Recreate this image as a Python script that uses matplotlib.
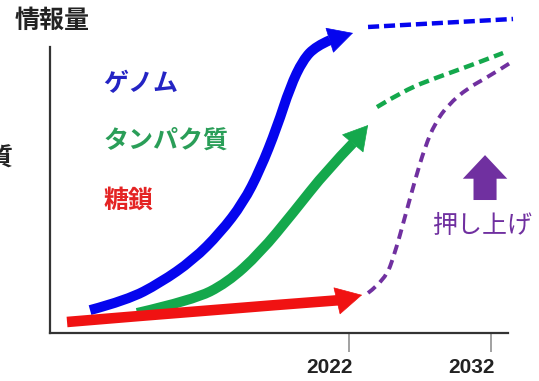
import matplotlib.pyplot as plt
from matplotlib.path import Path
from matplotlib.patches import PathPatch
from matplotlib.transforms import ScaledTranslation

plt.rcParams['font.family'] = ['Noto Sans CJK JP', 'DejaVu Sans']
plt.rcParams['lines.scale_dashes'] = False

# Data (year, amount of information)
genome_x = [2003.76, 2006.37, 2008.69, 2011.01, 2012.92, 2014.54, 2015.73, 2016.93, 2017.85, 2018.76, 2019.68, 2020.66]
genome_y = [8.0, 11.5, 17.5, 25.5, 35.0, 45.5, 57.0, 72.0, 86.0, 95.5, 100.3, 102.4]
genome_tip = (2022.28, 104.9)
genome_fx = [2023.34, 2028.41, 2033.55]
genome_fy = [107.0, 108.4, 109.8]

protein_x = [2007.07, 2011.01, 2013.41, 2015.73, 2018.06, 2020.45, 2022.28]
protein_y = [7.0, 11.5, 17.5, 28.0, 42.0, 57.0, 66.4]
protein_tip = (2023.34, 72.7)
protein_fx = [2023.97, 2025.94, 2028.27, 2030.66, 2032.85]
protein_fy = [79.0, 85.0, 89.5, 93.7, 97.9]

glycan_x = [2002.14, 2012.21, 2021.37]
glycan_y = [3.85, 8.04, 11.5]
glycan_tip = (2022.92, 13.3)

boost_x = [2023.34, 2024.54, 2025.24, 2025.94, 2026.65, 2027.35, 2028.06, 2028.97, 2030.38, 2031.79, 2033.34]
boost_y = [14.0, 18.5, 28.0, 40.6, 53.5, 65.0, 73.4, 79.7, 85.7, 89.5, 94.4]

years = [2022, 2032]
year_labels = ['2022', '2032']

blue = '#0505ee'
green = '#14a84c'
red = '#f01212'
purple = '#7030a0'
dark = '#222222'

fig = plt.figure(figsize=(5.39, 3.81), dpi=100)
ax = fig.add_axes([0.09276, 0.12598, 0.88404, 0.84073])
ax.set_xlim(2000.94, 2034.5)
ax.set_ylim(0, 112)


def curve(xs, ys, color, lw, dashes=None):
    # points used as quadratic bezier controls so the line comes out smooth
    pts = list(zip(xs, ys))
    verts = [pts[0]]
    codes = [Path.MOVETO]
    for i in range(1, len(pts) - 1):
        if i < len(pts) - 2:
            end = ((pts[i][0] + pts[i + 1][0]) / 2, (pts[i][1] + pts[i + 1][1]) / 2)
        else:
            end = pts[-1]
        verts += [pts[i], end]
        codes += [Path.CURVE3, Path.CURVE3]
    if len(pts) == 2:
        verts.append(pts[1])
        codes.append(Path.LINETO)
    p = PathPatch(Path(verts, codes), fill=False, edgecolor=color, lw=lw,
                  joinstyle='round', capstyle='butt')
    if dashes:
        p.set_linestyle((0, dashes))
    ax.add_patch(p)


def head(base, tip, color, length, width):
    ax.annotate('', xy=tip, xytext=base,
                arrowprops=dict(arrowstyle=f'-|>,head_length={length},head_width={width}',
                                color=color, lw=0.5, shrinkA=0, shrinkB=0, mutation_scale=20))


# solid arrows (until 2022)
curve(protein_x, protein_y, green, 7.2)
head((protein_x[-1], protein_y[-1]), protein_tip, green, 0.83, 0.48)
curve(genome_x, genome_y, blue, 7.2)
head((genome_x[-1], genome_y[-1]), genome_tip, blue, 0.85, 0.45)
curve(glycan_x, glycan_y, red, 7.6)
head((glycan_x[-1], glycan_y[-1]), glycan_tip, red, 0.9, 0.48)

# dashed forecasts
curve(genome_fx, genome_fy, blue, 3.2, (8, 3.5))
curve(protein_fx, protein_fy, green, 3.2, (7.5, 4))
curve(boost_x, boost_y, purple, 2.8, (7, 4.5))

# "push up" arrow
ax.annotate('', xy=(2031.58, 62.2), xytext=(2031.58, 46.5),
            arrowprops=dict(arrowstyle='simple,head_length=0.85,head_width=1.6,tail_width=0.83',
                            mutation_scale=20, color=purple, lw=0, shrinkA=0, shrinkB=0))
ax.text(2031.37, 37.4, '押し上げ', color=purple, fontsize=18, ha='center', va='center')

# labels
ax.text(2004.7, 87.1, 'ゲノム', color='#2424c4', fontsize=18, fontweight='bold', ha='left', va='center')
ax.text(2004.7, 67.1, 'タンパク質', color='#2a9e58', fontsize=18, fontweight='bold', ha='left', va='center')
ax.text(2004.7, 46.2, '糖鎖', color='#e42424', fontsize=18, fontweight='bold', ha='left', va='center')

fig.text(15 / 539, 1 - 21 / 381, '情報量', color=dark, fontsize=18, fontweight='bold', ha='left', va='center')
# cut off at the left edge, as in the source image
fig.text(12 / 539, 1 - 159 / 381, '質', color=dark, fontsize=18, fontweight='bold', ha='right', va='center')

# axes
for s in ['top', 'right']:
    ax.spines[s].set_visible(False)
ax.spines['left'].set_bounds(0, 100)
ax.spines['bottom'].set_bounds(2000.94, 2033.2)
for s in ['left', 'bottom']:
    ax.spines[s].set_linewidth(1.6)
    ax.spines[s].set_color('#333333')
ax.set_yticks([])
ax.set_xticks(years)
ax.set_xticklabels(year_labels, fontsize=15, fontweight='bold', color=dark, family='Liberation Sans')
ax.tick_params(axis='x', direction='out', length=14, width=1.1, color='#888888', pad=4)
for lab in ax.get_xticklabels():
    lab.set_transform(lab.get_transform() + ScaledTranslation(-0.195, 0, fig.dpi_scale_trans))

fig.savefig('out.png', dpi=100)
